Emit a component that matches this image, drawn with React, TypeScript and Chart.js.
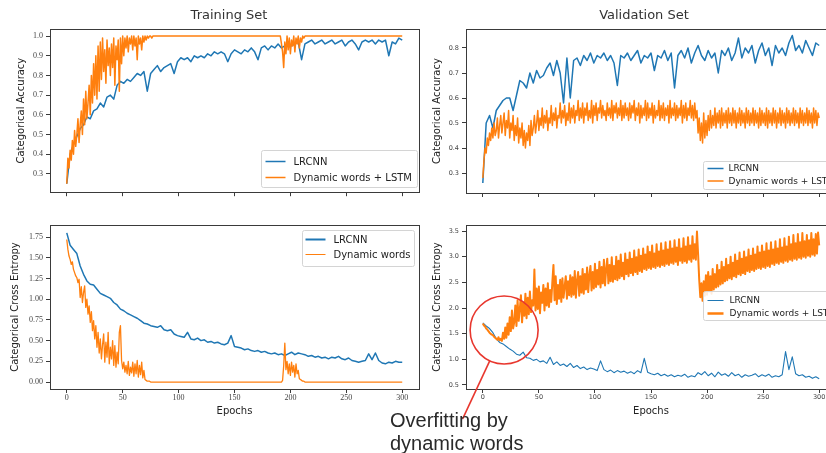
import React, { useEffect, useRef } from 'react';
import { Chart, registerables } from 'chart.js';

Chart.register(...registerables);

// ---------------- DATA ----------------
const STEP_LRCNN = 3; // epochs between LRCNN samples
const STEP_DYN = 1; // epochs between Dynamic-words samples
const EPOCH_TICKS = [0, 50, 100, 150, 200, 250, 300];
const TRAIN_ACC_TICKS = [0.3, 0.4, 0.5, 0.6, 0.7, 0.8, 0.9, 1.0];
const VAL_ACC_TICKS = [0.3, 0.4, 0.5, 0.6, 0.7, 0.8];
const TRAIN_LOSS_TICKS = [0, 0.25, 0.5, 0.75, 1.0, 1.25, 1.5, 1.75];
const VAL_LOSS_TICKS = [0.5, 1.0, 1.5, 2.0, 2.5, 3.0, 3.5];

const LABEL_LRCNN = 'LRCNN';
const LABEL_DYN_LSTM = 'Dynamic words + LSTM';
const LABEL_DYN = 'Dynamic words';

const TRAIN_ACC_LRCNN = [
  0.25, 0.40, 0.45, 0.49, 0.53, 0.55, 0.59, 0.58, 0.62, 0.63,
  0.66, 0.64, 0.69, 0.70, 0.68, 0.75, 0.77, 0.76, 0.78, 0.77,
  0.79, 0.81, 0.80, 0.82, 0.72, 0.81, 0.83, 0.85, 0.82, 0.84,
  0.85, 0.86, 0.81, 0.87, 0.89, 0.88, 0.89, 0.87, 0.90, 0.89,
  0.90, 0.89, 0.91, 0.90, 0.92, 0.91, 0.92, 0.91, 0.87, 0.91,
  0.93, 0.92, 0.91, 0.93, 0.92, 0.94, 0.92, 0.88, 0.94, 0.95,
  0.93, 0.95, 0.94, 0.96, 0.94, 0.95, 0.96, 0.95, 0.96, 0.97,
  0.88, 0.96, 0.97, 0.98, 0.96, 0.97, 0.98, 0.96, 0.97, 0.98,
  0.96, 0.97, 0.98, 0.95, 0.97, 0.98, 0.96, 0.93, 0.97, 0.98,
  0.97, 0.98, 0.96, 0.98, 0.97, 0.98, 0.90, 0.97, 0.96, 0.99,
  0.98,
];

const TRAIN_ACC_DYN = [
  0.25, 0.38, 0.33, 0.42, 0.37, 0.47, 0.40, 0.52, 0.44, 0.50,
  0.58, 0.46, 0.55, 0.62, 0.50, 0.68, 0.55, 0.72, 0.58, 0.66,
  0.75, 0.60, 0.80, 0.66, 0.86, 0.70, 0.90, 0.68, 0.95, 0.72,
  0.97, 0.78, 0.99, 0.82, 0.93, 0.76, 0.98, 0.85, 0.94, 0.80,
  0.96, 0.84, 0.99, 0.75, 0.95, 0.88, 0.98, 0.72, 0.99, 0.86,
  1.0, 0.90, 0.99, 0.94, 1.0, 0.92, 0.99, 0.96, 1.0, 0.93,
  1.0, 0.95, 0.99, 0.88, 1.0, 0.96, 0.99, 0.93, 1.0, 0.97,
  1.0, 0.98, 1.0, 0.99, 1.0, 1.0, 0.99, 1.0, 1.0, 1.0,
  1.0, 1.0, 1.0, 1.0, 1.0, 1.0, 1.0, 1.0, 1.0, 1.0,
  1.0, 1.0, 1.0, 1.0, 1.0, 1.0, 1.0, 1.0, 1.0, 1.0,
  1.0, 1.0, 1.0, 1.0, 1.0, 1.0, 1.0, 1.0, 1.0, 1.0,
  1.0, 1.0, 1.0, 1.0, 1.0, 1.0, 1.0, 1.0, 1.0, 1.0,
  1.0, 1.0, 1.0, 1.0, 1.0, 1.0, 1.0, 1.0, 1.0, 1.0,
  1.0, 1.0, 1.0, 1.0, 1.0, 1.0, 1.0, 1.0, 1.0, 1.0,
  1.0, 1.0, 1.0, 1.0, 1.0, 1.0, 1.0, 1.0, 1.0, 1.0,
  1.0, 1.0, 1.0, 1.0, 1.0, 1.0, 1.0, 1.0, 1.0, 1.0,
  1.0, 1.0, 1.0, 1.0, 1.0, 1.0, 1.0, 1.0, 1.0, 1.0,
  1.0, 1.0, 1.0, 1.0, 1.0, 1.0, 1.0, 1.0, 1.0, 1.0,
  1.0, 1.0, 1.0, 1.0, 1.0, 1.0, 1.0, 1.0, 1.0, 1.0,
  1.0, 1.0, 0.96, 0.92, 0.84, 0.97, 0.91, 1.0, 0.93, 0.99,
  0.91, 0.98, 0.95, 1.0, 0.92, 0.99, 0.96, 1.0, 0.94, 0.99,
  0.97, 1.0, 0.99, 1.0, 1.0, 1.0, 1.0, 1.0, 1.0, 1.0,
  1.0, 1.0, 1.0, 1.0, 1.0, 1.0, 1.0, 1.0, 1.0, 1.0,
  1.0, 1.0, 1.0, 1.0, 1.0, 1.0, 1.0, 1.0, 1.0, 1.0,
  1.0, 1.0, 1.0, 1.0, 1.0, 1.0, 1.0, 1.0, 1.0, 1.0,
  1.0, 1.0, 1.0, 1.0, 1.0, 1.0, 1.0, 1.0, 1.0, 1.0,
  1.0, 1.0, 1.0, 1.0, 1.0, 1.0, 1.0, 1.0, 1.0, 1.0,
  1.0, 1.0, 1.0, 1.0, 1.0, 1.0, 1.0, 1.0, 1.0, 1.0,
  1.0, 1.0, 1.0, 1.0, 1.0, 1.0, 1.0, 1.0, 1.0, 1.0,
  1.0, 1.0, 1.0, 1.0, 1.0, 1.0, 1.0, 1.0, 1.0, 1.0,
  1.0,
];

const VAL_ACC_LRCNN = [
  0.26, 0.50, 0.53, 0.48, 0.55, 0.57, 0.59, 0.60, 0.60, 0.55,
  0.61, 0.67, 0.66, 0.64, 0.70, 0.66, 0.71, 0.68, 0.69, 0.72,
  0.74, 0.69, 0.75, 0.70, 0.58, 0.76, 0.60, 0.75, 0.76, 0.73,
  0.77, 0.75, 0.78, 0.74, 0.77, 0.76, 0.78, 0.75, 0.77, 0.74,
  0.65, 0.77, 0.76, 0.78, 0.75, 0.77, 0.79, 0.74, 0.77, 0.76,
  0.78, 0.71, 0.77, 0.76, 0.79, 0.75, 0.78, 0.64, 0.77, 0.79,
  0.76, 0.80, 0.74, 0.78, 0.81, 0.77, 0.75, 0.79, 0.76, 0.78,
  0.70, 0.79, 0.77, 0.80, 0.75, 0.78, 0.84, 0.76, 0.80, 0.78,
  0.81, 0.74, 0.79, 0.82, 0.77, 0.80, 0.73, 0.81, 0.78, 0.80,
  0.77, 0.82, 0.85, 0.79, 0.81, 0.78, 0.83, 0.80, 0.77, 0.82,
  0.81,
];

const VAL_ACC_DYN = [
  0.28, 0.35, 0.40, 0.38, 0.44, 0.41, 0.46, 0.43, 0.48, 0.44,
  0.50, 0.45, 0.47, 0.52, 0.44, 0.49, 0.53, 0.46, 0.50, 0.54,
  0.45, 0.51, 0.48, 0.55, 0.44, 0.50, 0.47, 0.53, 0.43, 0.49,
  0.45, 0.52, 0.42, 0.48, 0.44, 0.50, 0.41, 0.47, 0.40, 0.46,
  0.43, 0.49, 0.41, 0.51, 0.45, 0.48, 0.53, 0.46, 0.50, 0.55,
  0.47, 0.52, 0.49, 0.56, 0.48, 0.53, 0.50, 0.55, 0.47, 0.52,
  0.50, 0.57, 0.49, 0.54, 0.51, 0.56, 0.48, 0.53, 0.52, 0.58,
  0.50, 0.55, 0.52, 0.57, 0.49, 0.54, 0.51, 0.58, 0.50, 0.56,
  0.52, 0.57, 0.50, 0.55, 0.53, 0.59, 0.51, 0.56, 0.52, 0.58,
  0.50, 0.56, 0.53, 0.58, 0.51, 0.55, 0.52, 0.59, 0.50, 0.57,
  0.53, 0.58, 0.51, 0.56, 0.54, 0.59, 0.52, 0.57, 0.53, 0.55,
  0.51, 0.58, 0.53, 0.56, 0.52, 0.59, 0.51, 0.57, 0.54, 0.58,
  0.52, 0.56, 0.53, 0.59, 0.51, 0.57, 0.52, 0.58, 0.53, 0.56,
  0.51, 0.58, 0.52, 0.57, 0.54, 0.59, 0.51, 0.56, 0.53, 0.58,
  0.50, 0.57, 0.52, 0.56, 0.53, 0.59, 0.51, 0.58, 0.52, 0.56,
  0.53, 0.58, 0.50, 0.57, 0.52, 0.55, 0.53, 0.59, 0.51, 0.57,
  0.52, 0.58, 0.51, 0.56, 0.53, 0.57, 0.50, 0.59, 0.52, 0.56,
  0.53, 0.58, 0.51, 0.57, 0.52, 0.56, 0.53, 0.59, 0.50, 0.57,
  0.52, 0.58, 0.51, 0.56, 0.53, 0.59, 0.52, 0.57, 0.51, 0.58,
  0.52, 0.55, 0.46, 0.52, 0.43, 0.50, 0.42, 0.54, 0.44, 0.51,
  0.45, 0.53, 0.47, 0.55, 0.48, 0.53, 0.49, 0.56, 0.48, 0.54,
  0.50, 0.55, 0.48, 0.56, 0.49, 0.54, 0.50, 0.55, 0.48, 0.56,
  0.50, 0.54, 0.49, 0.56, 0.50, 0.55, 0.48, 0.54, 0.50, 0.56,
  0.49, 0.55, 0.50, 0.54, 0.48, 0.56, 0.50, 0.55, 0.49, 0.54,
  0.50, 0.56, 0.49, 0.55, 0.50, 0.54, 0.48, 0.56, 0.49, 0.55,
  0.50, 0.54, 0.49, 0.56, 0.48, 0.55, 0.50, 0.54, 0.49, 0.56,
  0.50, 0.55, 0.48, 0.54, 0.50, 0.56, 0.49, 0.55, 0.50, 0.54,
  0.48, 0.56, 0.50, 0.55, 0.49, 0.54, 0.50, 0.56, 0.49, 0.55,
  0.50, 0.54, 0.48, 0.56, 0.50, 0.55, 0.49, 0.54, 0.50, 0.56,
  0.49, 0.55, 0.50, 0.54, 0.48, 0.56, 0.50, 0.55, 0.49, 0.54,
  0.52,
];

const TRAIN_LOSS_LRCNN = [
  1.80, 1.65, 1.60, 1.55, 1.40, 1.30, 1.22, 1.18, 1.17, 1.12,
  1.07, 1.05, 1.03, 1.01, 0.96, 0.93, 0.88, 0.86, 0.83, 0.81,
  0.79, 0.77, 0.74, 0.71, 0.70, 0.68, 0.67, 0.66, 0.68, 0.63,
  0.62, 0.63, 0.58, 0.56, 0.55, 0.54, 0.60, 0.52, 0.51, 0.53,
  0.50, 0.51, 0.48, 0.49, 0.47, 0.48, 0.46, 0.45, 0.47, 0.56,
  0.43, 0.42, 0.41, 0.39, 0.40, 0.38, 0.37, 0.38, 0.36, 0.37,
  0.35, 0.34, 0.35, 0.33, 0.34, 0.32, 0.34, 0.36, 0.33, 0.35,
  0.34, 0.33, 0.31, 0.32, 0.30, 0.31, 0.29, 0.30, 0.28, 0.30,
  0.29, 0.31, 0.28, 0.27, 0.29, 0.26, 0.25, 0.24, 0.25, 0.26,
  0.34, 0.27, 0.35, 0.26, 0.23, 0.22, 0.24, 0.23, 0.25, 0.24,
  0.24,
];

const TRAIN_LOSS_DYN = [
  1.72, 1.60, 1.52, 1.48, 1.42, 1.45, 1.36, 1.32, 1.28, 1.26,
  1.20, 1.24, 1.02, 1.15, 0.96, 1.08, 1.16, 0.90, 1.00, 0.82,
  0.92, 0.72, 0.85, 0.62, 0.74, 0.52, 0.68, 0.42, 0.60, 0.35,
  0.52, 0.28, 0.45, 0.58, 0.24, 0.48, 0.30, 0.60, 0.22, 0.42,
  0.28, 0.50, 0.20, 0.44, 0.18, 0.36, 0.22, 0.60, 0.68, 0.26,
  0.16, 0.24, 0.12, 0.20, 0.10, 0.25, 0.08, 0.18, 0.11, 0.24,
  0.07, 0.22, 0.10, 0.26, 0.06, 0.20, 0.09, 0.24, 0.05, 0.14,
  0.03, 0.02, 0.01, 0.01, 0.01, 0.0, 0.0, 0.0, 0.0, 0.0,
  0.0, 0.0, 0.0, 0.0, 0.0, 0.0, 0.0, 0.0, 0.0, 0.0,
  0.0, 0.0, 0.0, 0.0, 0.0, 0.0, 0.0, 0.0, 0.0, 0.0,
  0.0, 0.0, 0.0, 0.0, 0.0, 0.0, 0.0, 0.0, 0.0, 0.0,
  0.0, 0.0, 0.0, 0.0, 0.0, 0.0, 0.0, 0.0, 0.0, 0.0,
  0.0, 0.0, 0.0, 0.0, 0.0, 0.0, 0.0, 0.0, 0.0, 0.0,
  0.0, 0.0, 0.0, 0.0, 0.0, 0.0, 0.0, 0.0, 0.0, 0.0,
  0.0, 0.0, 0.0, 0.0, 0.0, 0.0, 0.0, 0.0, 0.0, 0.0,
  0.0, 0.0, 0.0, 0.0, 0.0, 0.0, 0.0, 0.0, 0.0, 0.0,
  0.0, 0.0, 0.0, 0.0, 0.0, 0.0, 0.0, 0.0, 0.0, 0.0,
  0.0, 0.0, 0.0, 0.0, 0.0, 0.0, 0.0, 0.0, 0.0, 0.0,
  0.0, 0.0, 0.0, 0.0, 0.0, 0.0, 0.0, 0.0, 0.0, 0.0,
  0.0, 0.0, 0.0, 0.02, 0.20, 0.47, 0.15, 0.25, 0.10, 0.22,
  0.08, 0.24, 0.12, 0.20, 0.06, 0.22, 0.10, 0.14, 0.04, 0.03,
  0.02, 0.01, 0.01, 0.0, 0.0, 0.0, 0.0, 0.0, 0.0, 0.0,
  0.0, 0.0, 0.0, 0.0, 0.0, 0.0, 0.0, 0.0, 0.0, 0.0,
  0.0, 0.0, 0.0, 0.0, 0.0, 0.0, 0.0, 0.0, 0.0, 0.0,
  0.0, 0.0, 0.0, 0.0, 0.0, 0.0, 0.0, 0.0, 0.0, 0.0,
  0.0, 0.0, 0.0, 0.0, 0.0, 0.0, 0.0, 0.0, 0.0, 0.0,
  0.0, 0.0, 0.0, 0.0, 0.0, 0.0, 0.0, 0.0, 0.0, 0.0,
  0.0, 0.0, 0.0, 0.0, 0.0, 0.0, 0.0, 0.0, 0.0, 0.0,
  0.0, 0.0, 0.0, 0.0, 0.0, 0.0, 0.0, 0.0, 0.0, 0.0,
  0.0, 0.0, 0.0, 0.0, 0.0, 0.0, 0.0, 0.0, 0.0, 0.0,
  0.0,
];

const VAL_LOSS_LRCNN = [
  1.71, 1.65, 1.60, 1.52, 1.40, 1.33, 1.30, 1.25, 1.20, 1.16,
  1.10, 1.08, 1.14, 1.03, 1.02, 0.98, 1.00, 0.95, 0.97, 0.92,
  1.04, 0.90, 0.95, 0.88, 0.91, 0.86, 0.92, 0.84, 0.88, 0.82,
  0.85, 0.80, 0.83, 0.81, 0.78, 0.97, 0.80, 0.76, 0.79, 0.74,
  0.78, 0.75, 0.77, 0.73, 0.76, 0.72, 0.78, 0.74, 1.02, 0.75,
  0.72, 0.70, 0.73, 0.68, 0.71, 0.67, 0.70, 0.66, 0.69, 0.67,
  0.71, 0.65, 0.68, 0.66, 0.74, 0.70, 0.76, 0.68, 0.73, 0.66,
  0.75, 0.69, 0.72, 0.67, 0.74, 0.68, 0.71, 0.65, 0.70, 0.67,
  0.69, 0.72, 0.66, 0.70, 0.67, 0.71, 0.65, 0.68, 0.66, 0.70,
  1.15, 0.80, 1.05, 0.72, 0.68, 0.70, 0.65, 0.67, 0.63, 0.66,
  0.62,
];

const VAL_LOSS_DYN = [
  1.70, 1.66, 1.64, 1.60, 1.58, 1.55, 1.52, 1.50, 1.48, 1.47,
  1.44, 1.42, 1.40, 1.38, 1.43, 1.37, 1.40, 1.36, 1.52, 1.40,
  1.62, 1.42, 1.70, 1.48, 1.82, 1.55, 1.95, 1.60, 1.72, 2.05,
  1.65, 2.15, 1.75, 1.98, 2.25, 1.72, 2.10, 1.85, 2.28, 1.80,
  2.20, 1.88, 2.32, 1.92, 2.15, 2.05, 2.75, 1.95, 2.38, 1.98,
  2.42, 1.90, 2.30, 2.10, 2.45, 1.95, 2.38, 2.05, 2.48, 2.02,
  2.35, 2.12, 2.50, 2.84, 2.15, 2.62, 2.08, 2.45, 2.18, 2.55,
  2.12, 2.58, 2.20, 2.42, 2.62, 2.18, 2.52, 2.25, 2.64, 2.22,
  2.60, 2.26, 2.72, 2.20, 2.54, 2.70, 2.24, 2.62, 2.30, 2.76,
  2.28, 2.66, 2.36, 2.79, 2.31, 2.64, 2.82, 2.34, 2.70, 2.38,
  2.86, 2.41, 2.74, 2.46, 2.90, 2.40, 2.80, 2.48, 2.94, 2.44,
  2.76, 2.96, 2.48, 2.84, 2.52, 2.99, 2.51, 2.82, 2.56, 3.00,
  2.54, 2.92, 2.58, 3.04, 2.62, 2.88, 2.56, 3.06, 2.66, 2.94,
  2.62, 3.08, 2.68, 2.96, 2.64, 3.12, 2.70, 2.99, 2.66, 3.14,
  2.72, 3.02, 2.70, 3.16, 2.76, 3.04, 2.74, 3.20, 2.78, 3.09,
  2.76, 3.22, 2.80, 3.06, 2.78, 3.24, 2.82, 3.10, 2.80, 3.26,
  2.84, 3.12, 2.82, 3.28, 2.86, 3.14, 2.84, 3.30, 2.88, 3.16,
  2.86, 3.32, 2.90, 3.18, 2.84, 3.34, 2.92, 3.16, 2.88, 3.36,
  2.91, 3.20, 2.88, 3.38, 2.94, 3.22, 2.90, 3.40, 2.96, 3.24,
  2.94, 3.49, 3.05, 2.55, 2.21, 2.48, 2.14, 2.52, 2.24, 2.64,
  2.26, 2.70, 2.32, 2.62, 2.28, 2.76, 2.36, 2.66, 2.40, 2.84,
  2.42, 2.74, 2.46, 2.90, 2.48, 2.80, 2.52, 2.96, 2.54, 2.84,
  2.58, 3.00, 2.56, 2.88, 2.62, 3.04, 2.60, 2.92, 2.66, 3.08,
  2.64, 2.96, 2.68, 3.10, 2.66, 2.99, 2.72, 3.14, 2.70, 3.02,
  2.74, 3.16, 2.72, 3.04, 2.76, 3.20, 2.78, 3.08, 2.76, 3.22,
  2.80, 3.10, 2.78, 3.26, 2.82, 3.12, 2.80, 3.28, 2.86, 3.14,
  2.84, 3.30, 2.88, 3.16, 2.86, 3.34, 2.90, 3.18, 2.88, 3.36,
  2.92, 3.20, 2.90, 3.39, 2.94, 3.24, 2.92, 3.42, 2.96, 3.26,
  2.94, 3.44, 2.98, 3.28, 2.96, 3.46, 3.00, 3.30, 2.98, 3.42,
  3.02, 3.32, 3.00, 3.46, 3.04, 3.34, 3.02, 3.44, 3.06, 3.47,
  3.22,
];

// annotation (in the validation-loss panel's data coordinates)
const ANNOT_CENTER = { epoch: 19, value: 1.57 };
const ANNOT_TAIL = { epoch: -18, value: -0.16 };
const ANNOT_TEXT = ['Overfitting by', 'dynamic words'];

// ---------------- STYLE ----------------
const BLUE = '#1f77b4';
const ORANGE = '#ff7f0e';
const FRAME = '#3a3a3a';
const TICK_COLOR = '#444';
const TEXT_COLOR = '#222';
const SERIF_TICK = { family: '"Liberation Serif", serif', size: 8 };
const SANS_TICK = { family: '"DejaVu Sans", sans-serif', size: 6.5 };
const AXIS_TITLE_FONT = { family: '"DejaVu Sans", sans-serif', size: 10 };

type Series = { label: string; values: number[]; step: number; color: string; lineWidth: number; order: number };
type LegendRow = { label: string; color: string; lineWidth: number };
type LegendSpec = {
  right: number; top?: number; bottom?: number; width: number; height: number;
  rowY: number[]; h0: number; h1: number; textX: number; fontSize: number; rows: LegendRow[];
};
type PanelSpec = {
  left: number; top: number; width: number; height: number;
  pad: { top: number; right: number; bottom: number; left: number };
  yWidth: number; xHeight: number; showX: boolean;
  yMin: number; yMax: number; yTicks: number[]; yDec: number; yTitle: string; yTitlePad: number;
  tickFont: any; series: Series[]; legend: LegendSpec; annotate?: boolean;
};

const framePlugin = {
  id: 'mplFrame',
  afterDatasetsDraw(chart: any) {
    const { ctx, chartArea: a } = chart;
    ctx.save();
    ctx.strokeStyle = FRAME;
    ctx.lineWidth = 1;
    const l = Math.round(a.left) + 0.5, t = Math.round(a.top) + 0.5;
    const r = Math.round(a.right) + 0.5, b = Math.round(a.bottom) + 0.5;
    ctx.strokeRect(l, t, r - l, b - t);
    ctx.restore();
  },
};

function legendPlugin(lg: LegendSpec) {
  return {
    id: 'mplLegend',
    afterDraw(chart: any) {
      const { ctx, chartArea: a } = chart;
      const x = Math.round(a.right - lg.right - lg.width) + 0.5;
      const y = Math.round(lg.top != null ? a.top + lg.top : a.bottom - (lg.bottom || 0) - lg.height) + 0.5;
      const w = lg.width, h = lg.height, rr = 2;
      ctx.save();
      ctx.beginPath();
      ctx.moveTo(x + rr, y);
      ctx.lineTo(x + w - rr, y);
      ctx.quadraticCurveTo(x + w, y, x + w, y + rr);
      ctx.lineTo(x + w, y + h - rr);
      ctx.quadraticCurveTo(x + w, y + h, x + w - rr, y + h);
      ctx.lineTo(x + rr, y + h);
      ctx.quadraticCurveTo(x, y + h, x, y + h - rr);
      ctx.lineTo(x, y + rr);
      ctx.quadraticCurveTo(x, y, x + rr, y);
      ctx.closePath();
      ctx.fillStyle = 'rgba(255,255,255,0.85)';
      ctx.fill();
      ctx.strokeStyle = '#d4d4d4';
      ctx.lineWidth = 1;
      ctx.stroke();
      ctx.font = `${lg.fontSize}px "DejaVu Sans", sans-serif`;
      ctx.textBaseline = 'middle';
      ctx.textAlign = 'left';
      lg.rows.forEach((row, i) => {
        const ry = y + lg.rowY[i];
        ctx.beginPath();
        ctx.strokeStyle = row.color;
        ctx.lineWidth = row.lineWidth;
        ctx.moveTo(x + lg.h0, ry);
        ctx.lineTo(x + lg.h1, ry);
        ctx.stroke();
        ctx.fillStyle = TEXT_COLOR;
        ctx.fillText(row.label, x + lg.textX, ry + 0.5);
      });
      ctx.restore();
    },
  };
}

const annotPlugin = {
  id: 'mplAnnot',
  afterDraw(chart: any) {
    const { ctx, scales } = chart;
    const cx = scales.x.getPixelForValue(ANNOT_CENTER.epoch);
    const cy = scales.y.getPixelForValue(ANNOT_CENTER.value);
    const tx = scales.x.getPixelForValue(ANNOT_TAIL.epoch);
    const ty = scales.y.getPixelForValue(ANNOT_TAIL.value);
    const r = 34;
    ctx.save();
    ctx.strokeStyle = '#e8372e';
    ctx.lineWidth = 1.6;
    ctx.beginPath();
    ctx.arc(cx, cy, r, 0, Math.PI * 2);
    ctx.stroke();
    const dx = tx - cx, dy = ty - cy, d = Math.hypot(dx, dy);
    ctx.beginPath();
    ctx.moveTo(cx + (dx / d) * r, cy + (dy / d) * r);
    ctx.lineTo(tx, ty);
    ctx.stroke();
    ctx.restore();
  },
};

function makeConfig(p: PanelSpec): any {
  const datasets = p.series.map((s) => ({
    label: s.label,
    data: s.values.map((v, j) => ({ x: j * s.step, y: v })),
    borderColor: s.color,
    backgroundColor: s.color,
    borderWidth: s.lineWidth,
    pointRadius: 0,
    pointHoverRadius: 0,
    tension: 0,
    fill: false,
    order: s.order,
    borderJoinStyle: 'round',
  }));
  return {
    type: 'line',
    data: { datasets },
    options: {
      responsive: false,
      animation: false,
      events: [],
      layout: { padding: p.pad },
      plugins: { legend: { display: false }, tooltip: { enabled: false } },
      scales: {
        x: {
          type: 'linear',
          min: -15,
          max: 315,
          afterBuildTicks: (s: any) => { s.ticks = EPOCH_TICKS.map((v) => ({ value: v })); },
          afterFit: (s: any) => { s.height = p.xHeight; },
          grid: { display: true, drawOnChartArea: false, drawTicks: true, tickLength: 4, color: FRAME, lineWidth: 1 },
          border: { display: false },
          ticks: {
            display: p.showX, autoSkip: false, maxRotation: 0, padding: 0,
            font: p.tickFont, color: TICK_COLOR, callback: (v: any) => String(v),
          },
          title: { display: p.showX, text: 'Epochs', font: AXIS_TITLE_FONT, color: TEXT_COLOR, padding: 3 },
        },
        y: {
          type: 'linear',
          min: p.yMin,
          max: p.yMax,
          afterBuildTicks: (s: any) => { s.ticks = p.yTicks.map((v) => ({ value: v })); },
          afterFit: (s: any) => { s.width = p.yWidth; },
          grid: { display: true, drawOnChartArea: false, drawTicks: true, tickLength: 4, color: FRAME, lineWidth: 1 },
          border: { display: false },
          ticks: {
            autoSkip: false, padding: 3, font: p.tickFont, color: TICK_COLOR,
            callback: (v: any) => Number(v).toFixed(p.yDec),
          },
          title: { display: true, text: p.yTitle, font: AXIS_TITLE_FONT, color: TEXT_COLOR, padding: p.yTitlePad },
        },
      },
    },
    plugins: [framePlugin, legendPlugin(p.legend), ...(p.annotate ? [annotPlugin] : [])],
  };
}

const PANELS: PanelSpec[] = [
  {
    left: 0, top: 0, width: 427, height: 200,
    pad: { top: 29, right: 8, bottom: 0, left: 0 },
    yWidth: 50, xHeight: 7, showX: false,
    yMin: 0.207, yMax: 1.036, yTicks: TRAIN_ACC_TICKS, yDec: 1,
    yTitle: 'Categorical Accuracy', yTitlePad: 15, tickFont: SERIF_TICK,
    series: [
      { label: LABEL_DYN_LSTM, values: TRAIN_ACC_DYN, step: STEP_DYN, color: ORANGE, lineWidth: 1.5, order: 0 },
      { label: LABEL_LRCNN, values: TRAIN_ACC_LRCNN, step: STEP_LRCNN, color: BLUE, lineWidth: 1.5, order: 1 },
    ],
    legend: {
      right: 2, bottom: 5, width: 156, height: 37, rowY: [11, 27], h0: 4, h1: 24, textX: 32, fontSize: 10,
      rows: [
        { label: LABEL_LRCNN, color: BLUE, lineWidth: 1.5 },
        { label: LABEL_DYN_LSTM, color: ORANGE, lineWidth: 1.5 },
      ],
    },
  },
  {
    left: 410, top: 0, width: 430, height: 200,
    pad: { top: 29, right: 4, bottom: 0, left: 0 },
    yWidth: 56, xHeight: 7, showX: false,
    yMin: 0.22, yMax: 0.876, yTicks: VAL_ACC_TICKS, yDec: 1,
    yTitle: 'Categorical Accuracy', yTitlePad: 21, tickFont: SANS_TICK,
    series: [
      { label: LABEL_DYN_LSTM, values: VAL_ACC_DYN, step: STEP_DYN, color: ORANGE, lineWidth: 1.5, order: 0 },
      { label: LABEL_LRCNN, values: VAL_ACC_LRCNN, step: STEP_LRCNN, color: BLUE, lineWidth: 1.5, order: 1 },
    ],
    legend: {
      right: 5, bottom: 4, width: 128, height: 28, rowY: [7, 19.5], h0: 4, h1: 20, textX: 25, fontSize: 9,
      rows: [
        { label: LABEL_LRCNN, color: BLUE, lineWidth: 1.5 },
        { label: LABEL_DYN_LSTM, color: ORANGE, lineWidth: 1.5 },
      ],
    },
  },
  {
    left: 0, top: 210, width: 427, height: 210,
    pad: { top: 15, right: 8, bottom: 0, left: 0 },
    yWidth: 50, xHeight: 31, showX: true,
    yMin: -0.084, yMax: 1.895, yTicks: TRAIN_LOSS_TICKS, yDec: 2,
    yTitle: 'Categorical Cross Entropy', yTitlePad: 9, tickFont: SERIF_TICK,
    series: [
      { label: LABEL_DYN, values: TRAIN_LOSS_DYN, step: STEP_DYN, color: ORANGE, lineWidth: 1.3, order: 0 },
      { label: LABEL_LRCNN, values: TRAIN_LOSS_LRCNN, step: STEP_LRCNN, color: BLUE, lineWidth: 1.5, order: 1 },
    ],
    legend: {
      right: 5, top: 5, width: 112, height: 36, rowY: [9, 24], h0: 3, h1: 23, textX: 31, fontSize: 10,
      rows: [
        { label: LABEL_LRCNN, color: BLUE, lineWidth: 2 },
        { label: LABEL_DYN, color: ORANGE, lineWidth: 1 },
      ],
    },
  },
  {
    left: 410, top: 210, width: 430, height: 243,
    pad: { top: 15, right: 4, bottom: 33, left: 0 },
    yWidth: 56, xHeight: 31, showX: true,
    yMin: 0.422, yMax: 3.617, yTicks: VAL_LOSS_TICKS, yDec: 1,
    yTitle: 'Categorical Cross Entropy', yTitlePad: 21, tickFont: SANS_TICK,
    series: [
      { label: LABEL_DYN_LSTM, values: VAL_LOSS_DYN, step: STEP_DYN, color: ORANGE, lineWidth: 2, order: 0 },
      { label: LABEL_LRCNN, values: VAL_LOSS_LRCNN, step: STEP_LRCNN, color: BLUE, lineWidth: 1.1, order: 1 },
    ],
    legend: {
      right: 5, top: 66, width: 128, height: 29, rowY: [9, 22], h0: 4, h1: 20, textX: 26, fontSize: 9,
      rows: [
        { label: LABEL_LRCNN, color: BLUE, lineWidth: 1 },
        { label: LABEL_DYN_LSTM, color: ORANGE, lineWidth: 2.5 },
      ],
    },
    annotate: true,
  },
];

function Panel({ p }: { p: PanelSpec }) {
  const ref = useRef<HTMLCanvasElement>(null);
  useEffect(() => {
    const canvas = ref.current;
    if (!canvas) return;
    const chart = new Chart(canvas, makeConfig(p));
    return () => chart.destroy();
  }, []);
  return (
    <canvas
      ref={ref}
      width={p.width}
      height={p.height}
      style={{ position: 'absolute', left: p.left, top: p.top, width: p.width, height: p.height }}
    />
  );
}

export default function App() {
  const titleStyle: React.CSSProperties = {
    position: 'absolute', top: 7, width: 240, textAlign: 'center',
    font: '13px "DejaVu Sans", sans-serif', lineHeight: '16px', color: '#333',
  };
  return (
    <div style={{ position: 'absolute', left: 0, top: 0, width: 826, height: 453, overflow: 'hidden', background: '#fff' }}>
      {PANELS.map((p, i) => <Panel key={i} p={p} />)}
      <div style={{ ...titleStyle, left: 109 }}>Training Set</div>
      <div style={{ ...titleStyle, left: 524 }}>Validation Set</div>
      <div
        style={{
          position: 'absolute', left: 390, top: 409, font: '20px "Liberation Sans", Arial, sans-serif',
          lineHeight: '23px', color: '#2a2a2a', whiteSpace: 'nowrap',
        }}
      >
        {ANNOT_TEXT[0]}<br />{ANNOT_TEXT[1]}
      </div>
    </div>
  );
}
